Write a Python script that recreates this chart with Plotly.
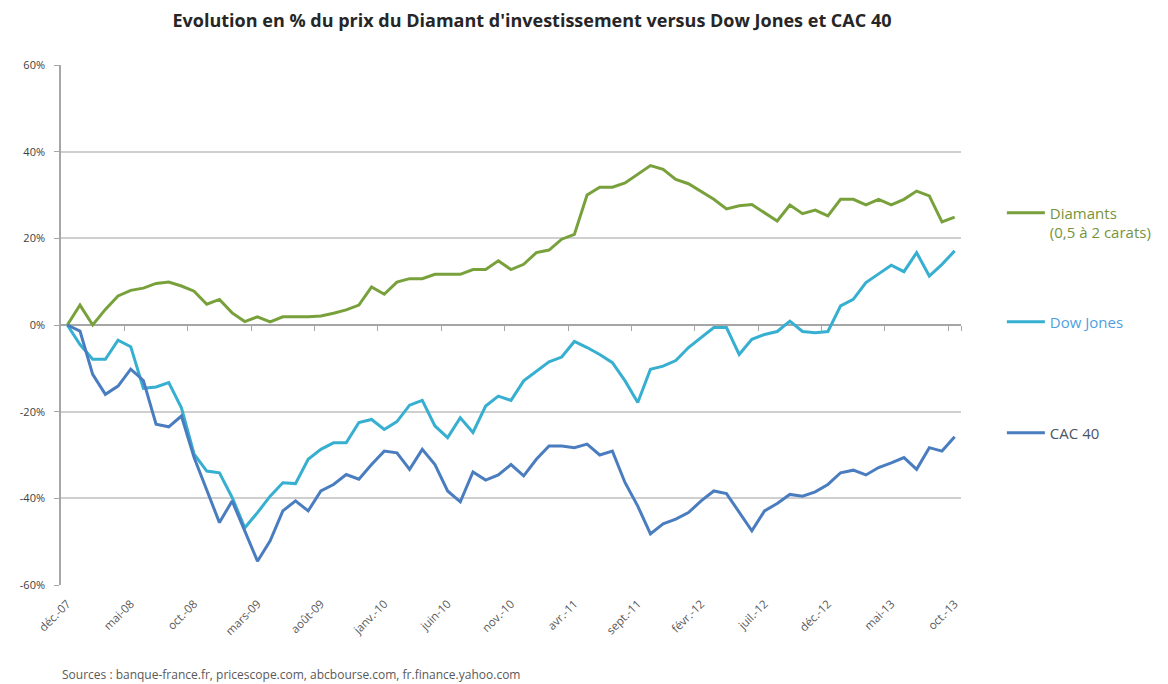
import plotly.graph_objects as go

# ---------------- data ----------------
month_abbr = ["janv.", "févr.", "mars", "avr.", "mai", "juin",
              "juil.", "août", "sept.", "oct.", "nov.", "déc."]
months = []
y, m = 2007, 11
for _ in range(71):
    months.append(f"{month_abbr[m]}-{str(y)[2:]}")
    m += 1
    if m == 12:
        m = 0
        y += 1

tick_labels = ["déc.-07", "mai-08", "oct.-08", "mars-09", "août-09", "janv.-10",
               "juin-10", "nov.-10", "avr.-11", "sept.-11", "févr.-12", "juil.-12",
               "déc.-12", "mai-13", "oct.-13"]

diamants = [0, 4.6, 0, 3.6, 6.7, 8.0, 8.5, 9.6, 9.9, 9.0,
            7.8, 4.8, 5.9, 2.8, 0.8, 1.9, 0.7, 1.9, 1.9, 1.9,
            2.1, 2.7, 3.5, 4.6, 8.8, 7.1, 9.9, 10.7, 10.7, 11.7,
            11.7, 11.7, 12.8, 12.8, 14.8, 12.8, 14.0, 16.7, 17.3, 19.8,
            20.9, 30.0, 31.8, 31.8, 32.8, 34.8, 36.8, 35.9, 33.6, 32.6,
            30.9, 29.0, 26.8, 27.5, 27.8, 25.9, 24.0, 27.7, 25.7, 26.5,
            25.2, 29.0, 29.0, 27.7, 29.0, 27.7, 29.0, 30.9, 29.8, 23.8,
            24.9]

dow_jones = [0, -4.5, -7.9, -7.9, -3.5, -5.0, -14.6, -14.3, -13.3, -19.1,
             -29.8, -33.7, -34.1, -39.8, -46.8, -43.3, -39.5, -36.4, -36.6, -31.0,
             -28.7, -27.2, -27.2, -22.5, -21.8, -24.1, -22.3, -18.5, -17.4, -23.3,
             -26.0, -21.4, -24.8, -18.7, -16.4, -17.4, -12.9, -10.6, -8.5, -7.4,
             -3.8, -5.2, -6.8, -8.7, -12.9, -17.9, -10.2, -9.5, -8.2, -5.2,
             -2.8, -0.6, -0.6, -6.8, -3.3, -2.2, -1.5, 0.9, -1.5, -1.8,
             -1.5, 4.4, 5.9, 9.8, 11.8, 13.8, 12.3, 16.7, 11.3, 14.0,
             17.1]

cac40 = [0, -1.4, -11.4, -16.0, -14.1, -10.2, -12.8, -22.9, -23.5, -21.0,
         -30.6, -38.3, -45.6, -40.6, -47.5, -54.5, -49.8, -42.9, -40.6, -42.9,
         -38.3, -36.8, -34.5, -35.6, -32.2, -29.1, -29.5, -33.3, -28.7, -32.2,
         -38.3, -40.8, -33.9, -35.8, -34.6, -32.2, -34.8, -31.0, -27.9, -27.9,
         -28.3, -27.5, -30.0, -29.1, -36.4, -41.8, -48.2, -45.9, -44.8, -43.3,
         -40.6, -38.3, -38.9, -43.3, -47.5, -42.9, -41.2, -39.1, -39.5, -38.5,
         -36.8, -34.1, -33.5, -34.6, -32.9, -31.8, -30.6, -33.3, -28.3, -29.1,
         -25.8]

y_ticks = [60, 40, 20, 0, -20, -40, -60]

# ---------------- style ----------------
FONT = "Open Sans"
GREEN = "#78a13c"
LBLUE = "#36afd0"
DBLUE = "#4a7dc0"
GRID = "#cfcfcf"

# the page body has an 8 px margin: the figure is sized/offset to compensate
W, H = 1160, 676
OFF = 8
PLOT_LEFT, PLOT_RIGHT = 51, 965
PLOT_TOP, PLOT_BOTTOM = 65, 585
PW = PLOT_RIGHT - PLOT_LEFT
PH = PLOT_BOTTOM - PLOT_TOP


def px(pix):
    """page pixel column -> paper x"""
    return (pix - PLOT_LEFT) / PW


def py(pix):
    """page pixel row -> paper y"""
    return (PLOT_BOTTOM - pix) / PH


fig = go.Figure()
fig.add_trace(go.Scatter(x=months, y=diamants, mode="lines",
                         name="Diamants<br>(0,5 à 2 carats)",
                         line=dict(color=GREEN, width=3), legend="legend"))
fig.add_trace(go.Scatter(x=months, y=dow_jones, mode="lines", name="Dow Jones",
                         line=dict(color=LBLUE, width=3), legend="legend2"))
fig.add_trace(go.Scatter(x=months, y=cac40, mode="lines", name="CAC 40",
                         line=dict(color=DBLUE, width=3), legend="legend3"))

# invisible trace to activate the overlay axis carrying the tick marks on the 0 line
fig.add_trace(go.Scatter(x=[0], y=[0], xaxis="x2", mode="markers",
                         marker=dict(opacity=0), showlegend=False, hoverinfo="skip"))

tick_idx = list(range(0, len(months), 5))
LEG_X = px(1006.5)
LEG_FONT = 15

fig.update_layout(
    width=W, height=H,
    paper_bgcolor="white", plot_bgcolor="white",
    margin=dict(l=PLOT_LEFT - OFF, r=1168 - PLOT_RIGHT, t=PLOT_TOP - OFF, b=684 - PLOT_BOTTOM),
    font=dict(family=FONT, color="#404040"),
    title=dict(text="<b>Evolution en % du prix du Diamant d'investissement versus Dow Jones et CAC 40</b>",
               x=(532 - OFF) / W, xref="container", xanchor="center",
               y=1 - (21 - OFF) / H, yref="container", yanchor="middle",
               font=dict(size=18, color="#262626", family=FONT)),
    xaxis=dict(type="category", range=[-0.5, len(months) - 0.5],
               tickvals=[months[i] for i in tick_idx], ticktext=tick_labels,
               tickangle=-45, ticks="", showgrid=False, showline=False,
               zeroline=False, tickfont=dict(size=11.5, color="#595959"),
               ticklabelstandoff=9),
    xaxis2=dict(overlaying="x", anchor="free", position=0.5, side="bottom",
                range=[-0.5, len(months) - 0.5],
                tickvals=[i - 0.5 for i in range(5, len(months), 5)] + [len(months) - 0.5],
                showticklabels=False, ticks="outside", ticklen=5,
                tickcolor="#a6a6a6", tickwidth=1.2,
                showgrid=False, showline=False, zeroline=False),
    yaxis=dict(range=[-60, 60], tickvals=y_ticks,
               ticktext=[f"{v}%" for v in y_ticks],
               showgrid=True, gridcolor=GRID, gridwidth=1.5,
               zeroline=True, zerolinecolor="#a6a6a6", zerolinewidth=1.5,
               showline=True, linecolor="#a6a6a6", linewidth=1.5,
               ticks="outside", ticklen=5, tickcolor="#a6a6a6",
               tickfont=dict(size=11, color="#404040"),
               ticklabelstandoff=7),
    legend=dict(x=LEG_X, xanchor="left", y=py(222.5), yanchor="middle",
                valign="top", bgcolor="rgba(0,0,0,0)", itemwidth=38,
                font=dict(size=LEG_FONT, color="#76933c", family=FONT)),
    legend2=dict(x=LEG_X, xanchor="left", y=py(322), yanchor="middle",
                 bgcolor="rgba(0,0,0,0)", itemwidth=38,
                 font=dict(size=LEG_FONT, color="#4f9fe0", family=FONT)),
    legend3=dict(x=LEG_X, xanchor="left", y=py(433), yanchor="middle",
                 bgcolor="rgba(0,0,0,0)", itemwidth=38,
                 font=dict(size=LEG_FONT, color="#4a5566", family=FONT)),
    annotations=[dict(text="Sources : banque-france.fr, pricescope.com, abcbourse.com, fr.finance.yahoo.com",
                      xref="paper", yref="paper", x=px(50), y=py(674),
                      xanchor="left", yanchor="middle", showarrow=False,
                      font=dict(size=12, color="#595959", family=FONT))],
)

fig.write_html("out.html")
